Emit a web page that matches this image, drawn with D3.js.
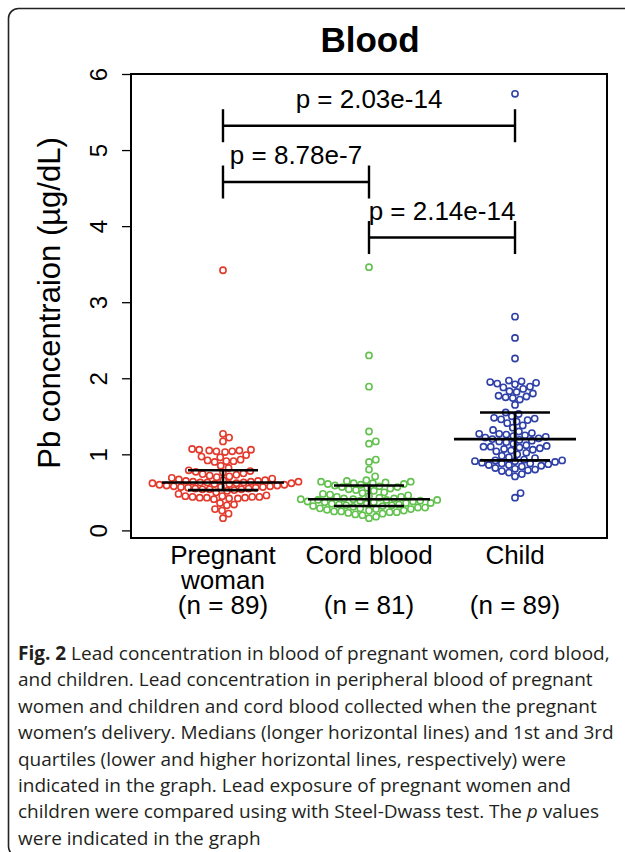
<!DOCTYPE html>
<html>
<head>
<meta charset="utf-8">
<script src="https://cdn.jsdelivr.net/npm/d3@7"></script>
<style>
  html, body { margin: 0; padding: 0; background: #fff; }
  svg { display: block; }
</style>
</head>
<body>
<svg id="chart" width="625" height="852"></svg>
<script>
// ---------------- data ----------------
const categories = ["Pregnant\nwoman", "Cord blood", "Child"];
const sampleLabels = ["(n = 89)", "(n = 81)", "(n = 89)"];
const groupColors = ["#e23a2c", "#63c24f", "#2f40a8"];

const pregnantWoman = [
  3.42, 1.27, 1.22, 1.17,
  1.07, 1.06, 1.06, 1.05, 1.05, 1.04, 1.04, 1.03,
  0.99, 0.97, 0.96,
  0.93, 0.92, 0.91, 0.91, 0.90,
  0.85, 0.82,
  0.79,
  0.78, 0.77, 0.76, 0.75, 0.74, 0.73, 0.72, 0.71, 0.70, 0.69, 0.68, 0.67, 0.66, 0.66, 0.65, 0.65, 0.64, 0.64, 0.64, 0.63, 0.63,
  0.63,
  0.62, 0.62, 0.62, 0.61, 0.61, 0.60, 0.60, 0.59, 0.59, 0.58, 0.58, 0.57, 0.57, 0.57, 0.56, 0.56, 0.55, 0.55, 0.54, 0.54, 0.54,
  0.53,
  0.52, 0.50, 0.48, 0.46, 0.45, 0.45, 0.44, 0.44, 0.44, 0.43, 0.43, 0.43, 0.42, 0.42, 0.41, 0.36, 0.34, 0.33, 0.28, 0.26, 0.22, 0.16
];
const cordBlood = [
  3.46, 2.30, 1.89, 1.30, 1.17, 1.14, 0.93, 0.90, 0.80, 0.71,
  0.66, 0.65, 0.64, 0.64, 0.63, 0.62, 0.62, 0.61, 0.61, 0.60,
  0.59,
  0.58, 0.57, 0.57, 0.56, 0.55, 0.54, 0.53, 0.52, 0.50, 0.49, 0.48, 0.47, 0.46, 0.45, 0.44, 0.44, 0.43, 0.42, 0.42,
  0.41,
  0.41, 0.40, 0.40, 0.40, 0.39, 0.39, 0.38, 0.38, 0.37, 0.37, 0.36, 0.36, 0.35, 0.35, 0.34, 0.34, 0.33, 0.33, 0.32,
  0.32,
  0.31, 0.30, 0.30, 0.29, 0.29, 0.28, 0.28, 0.27, 0.26, 0.26, 0.25, 0.25, 0.24, 0.24, 0.23, 0.22, 0.21, 0.20, 0.18, 0.16
];
const child = [
  5.74, 2.81, 2.53, 2.26, 1.97, 1.96, 1.95, 1.94, 1.93, 1.92, 1.89, 1.88, 1.86, 1.83, 1.82, 1.80, 1.77, 1.76, 1.75, 1.74, 1.72, 1.65,
  1.55,
  1.53, 1.50, 1.48, 1.47, 1.46, 1.45, 1.43, 1.41, 1.38, 1.35, 1.32, 1.30, 1.28, 1.27, 1.27, 1.26, 1.25, 1.24, 1.23, 1.22, 1.21,
  1.20,
  1.19, 1.18, 1.17, 1.16, 1.14, 1.12, 1.11, 1.10, 1.10, 1.09, 1.08, 1.07, 1.06, 1.05, 1.04, 1.02, 1.00, 0.98, 0.96, 0.95, 0.93,
  0.92,
  0.92, 0.91, 0.91, 0.90, 0.89, 0.88, 0.88, 0.87, 0.86, 0.86, 0.85, 0.84, 0.82, 0.81, 0.80, 0.79, 0.78, 0.76, 0.74, 0.71, 0.49, 0.43
];
const groupValues = [pregnantWoman, cordBlood, child];

const yTicks = [0, 1, 2, 3, 4, 5, 6];

const bracketFrom = [0, 0, 1];
const bracketTo = [2, 1, 2];
const bracketLevel = [5.32, 4.58, 3.85];
const bracketLabels = ["p = 2.03e-14", "p = 8.78e-7", "p = 2.14e-14"];

const captionLines = [
  [["Fig. 2", "b"], [" Lead concentration in blood of pregnant women, cord blood,", ""]],
  [["and children. Lead concentration in peripheral blood of pregnant", ""]],
  [["women and children and cord blood collected when the pregnant", ""]],
  [["women\u2019s delivery. Medians (longer horizontal lines) and 1st and 3rd", ""]],
  [["quartiles (lower and higher horizontal lines, respectively) were", ""]],
  [["indicated in the graph. Lead exposure of pregnant women and", ""]],
  [["children were compared using with Steel-Dwass test. The ", ""], ["p", "i"], [" values", ""]],
  [["were indicated in the graph", ""]]
];

// ---------------- layout ----------------
const svg = d3.select("#chart");
const plot = { left: 131, right: 607, top: 74, bottom: 538 };

const x = d3.scaleLinear().domain([0.37, 3.63]).range([plot.left, plot.right]);
const y = d3.scaleLinear().domain([-0.1, 6]).range([plot.bottom, plot.top]);
const font = "'Liberation Sans', Arial, Helvetica, sans-serif";

// outer frame
svg.append("rect")
  .attr("x", 8.5).attr("y", 8.5)
  .attr("width", 720).attr("height", 848)
  .attr("rx", 10).attr("ry", 10)
  .attr("fill", "none").attr("stroke", "#222").attr("stroke-width", 1.6);

// title
svg.append("text")
  .attr("x", 370).attr("y", 52)
  .attr("text-anchor", "middle")
  .attr("font-family", font).attr("font-weight", "bold").attr("font-size", 35)
  .text("Blood");

// plot box
svg.append("rect")
  .attr("x", plot.left).attr("y", plot.top)
  .attr("width", plot.right - plot.left).attr("height", plot.bottom - plot.top)
  .attr("fill", "none").attr("stroke", "#000").attr("stroke-width", 2);

// y axis
const yAxis = d3.axisLeft(y).tickValues(yTicks).tickSize(9).tickFormat(d3.format("d"));
const gy = svg.append("g").attr("transform", `translate(${plot.left},0)`).call(yAxis);
gy.select(".domain").remove();
svg.append("line").attr("x1", plot.left).attr("x2", plot.left)
  .attr("y1", y(6)).attr("y2", y(0)).attr("stroke", "#000").attr("stroke-width", 1.5);
gy.selectAll(".tick line").attr("stroke", "#000").attr("stroke-width", 1.3);
gy.selectAll(".tick text")
  .attr("font-family", font).attr("font-size", 24).attr("fill", "#000")
  .attr("x", null).attr("dy", null)
  .attr("text-anchor", "middle")
  .attr("transform", "translate(-24,0) rotate(-90)");

// y axis title
svg.append("text")
  .attr("transform", "translate(60,303) rotate(-90)")
  .attr("text-anchor", "middle")
  .attr("font-family", font).attr("font-size", 31)
  .text("Pb concentraion (\u00b5g/dL)");

// x category labels
categories.forEach((c, i) => {
  const lines = c.split("\n");
  const t = svg.append("text")
    .attr("text-anchor", "middle")
    .attr("font-family", font).attr("font-size", 26);
  lines.forEach((ln, k) => {
    t.append("tspan").attr("x", x(i + 1)).attr("y", 564 + k * 25).text(ln);
  });
  svg.append("text")
    .attr("x", x(i + 1)).attr("y", 614)
    .attr("text-anchor", "middle")
    .attr("font-family", font).attr("font-size", 26)
    .text(sampleLabels[i]);
});

// beeswarm
const D = 7.2;
function swarm(vals) {
  const pts = vals.map(v => ({ v, py: y(v) })).sort((a, b) => a.v - b.v);
  const placed = [];
  for (const p of pts) {
    const cands = [0];
    for (const q of placed) {
      const dy = Math.abs(p.py - q.py);
      if (dy < D) {
        const dx = Math.sqrt(D * D - dy * dy);
        cands.push(q.dx + dx, q.dx - dx);
      }
    }
    cands.sort((a, b) => Math.abs(a) - Math.abs(b));
    for (const c of cands) {
      if (placed.every(q => (q.dx - c) ** 2 + (q.py - p.py) ** 2 >= D * D - 1e-6)) {
        p.dx = c; break;
      }
    }
    placed.push(p);
  }
  return pts;
}

groupValues.forEach((vals, i) => {
  const pts = swarm(vals);
  svg.append("g").selectAll("circle").data(pts).join("circle")
    .attr("cx", d => x(i + 1) + d.dx)
    .attr("cy", d => d.py)
    .attr("r", 3.1)
    .attr("fill", "#fff")
    .attr("stroke", groupColors[i])
    .attr("stroke-width", 1.6);
});

// median / quartile lines
groupValues.forEach((vals, i) => {
  const s = vals.slice().sort(d3.ascending);
  const q1 = d3.quantileSorted(s, 0.25), med = d3.quantileSorted(s, 0.5), q3 = d3.quantileSorted(s, 0.75);
  const cx = x(i + 1);
  const g = svg.append("g").attr("stroke", "#000").attr("stroke-width", 2.6);
  g.append("line").attr("x1", cx - 61).attr("x2", cx + 61).attr("y1", y(med)).attr("y2", y(med));
  g.append("line").attr("x1", cx - 35).attr("x2", cx + 35).attr("y1", y(q1)).attr("y2", y(q1));
  g.append("line").attr("x1", cx - 35).attr("x2", cx + 35).attr("y1", y(q3)).attr("y2", y(q3));
  g.append("line").attr("x1", cx).attr("x2", cx).attr("y1", y(q1)).attr("y2", y(q3));
});

// significance brackets
bracketLevel.forEach((lv, i) => {
  const x1 = x(bracketFrom[i] + 1), x2 = x(bracketTo[i] + 1), yy = y(lv);
  const g = svg.append("g").attr("stroke", "#000").attr("stroke-width", 2.4);
  g.append("line").attr("x1", x1).attr("x2", x2).attr("y1", yy).attr("y2", yy);
  g.append("line").attr("x1", x1).attr("x2", x1).attr("y1", yy - 16.5).attr("y2", yy + 16.5);
  g.append("line").attr("x1", x2).attr("x2", x2).attr("y1", yy - 16.5).attr("y2", yy + 16.5);
  svg.append("text")
    .attr("x", (x1 + x2) / 2).attr("y", yy - 18)
    .attr("text-anchor", "middle")
    .attr("font-family", font).attr("font-size", 26)
    .text(bracketLabels[i]);
});

// caption
captionLines.forEach((parts, k) => {
  const t = svg.append("text")
    .attr("x", 18).attr("y", 660 + k * 26.4)
    .attr("font-family", "'Open Sans', sans-serif").attr("font-size", 19)
    .attr("fill", "#231f20");
  parts.forEach(([txt, st]) => {
    const sp = t.append("tspan").text(txt);
    if (st === "b") sp.attr("font-weight", "bold");
    if (st === "i") sp.attr("font-style", "italic");
  });
});
</script>
</body>
</html>
